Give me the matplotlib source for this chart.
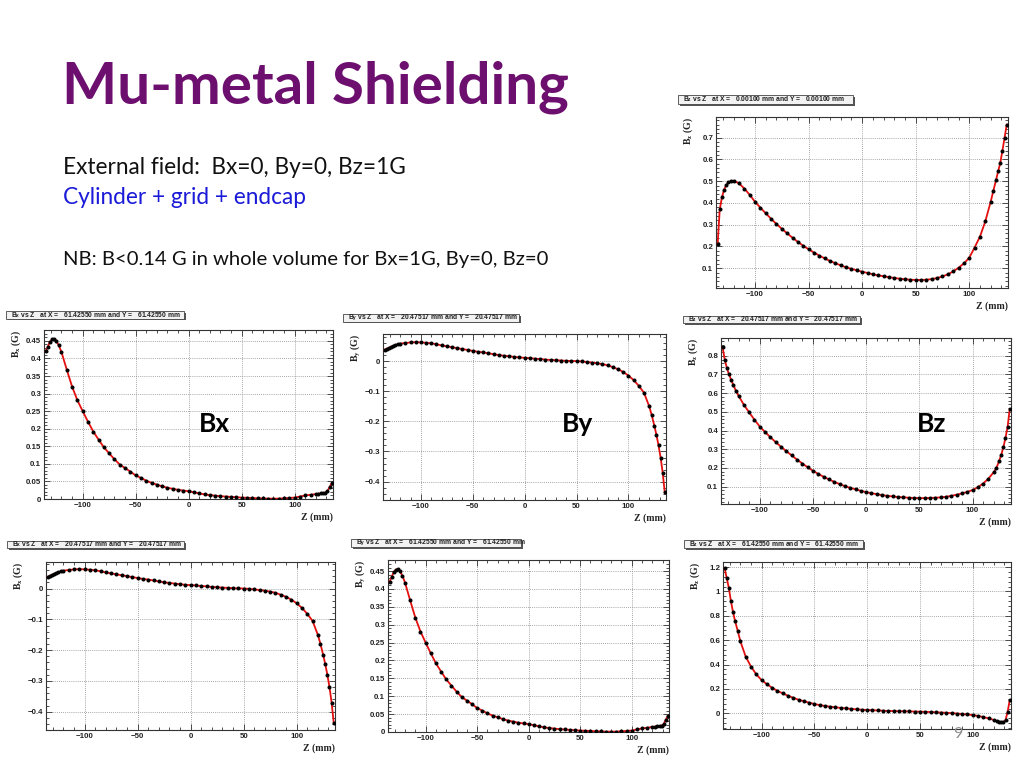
import numpy as np
import matplotlib
matplotlib.use("Agg")
import matplotlib.pyplot as plt
from matplotlib.patches import Rectangle
from matplotlib.ticker import MultipleLocator, FuncFormatter

# ---------------- data ----------------
Z_MM = [-135, -133, -131, -129, -127, -125, -122.5, -120,
        -115, -110, -105, -100, -95, -90, -85, -80, -75, -70, -65, -60,
        -55, -50, -45, -40, -35, -30, -25, -20, -15, -10, -5, 0,
        5, 10, 15, 20, 25, 30, 35, 40, 45, 50, 55, 60, 65, 70, 75, 80,
        85, 90, 95, 100, 105, 110, 115,
        120, 122.5, 125, 127, 129, 131, 133, 135]

# Bz on axis (X = Y = 0.001 mm)
BZ_CENTER = [0.21, 0.37, 0.425, 0.46, 0.482, 0.494, 0.501, 0.502,
             0.49, 0.466, 0.437, 0.405, 0.378, 0.352, 0.327, 0.303, 0.281, 0.26, 0.24, 0.221,
             0.203, 0.187, 0.172, 0.158, 0.145, 0.133, 0.123, 0.113, 0.104, 0.097, 0.09, 0.084,
             0.078, 0.072, 0.067, 0.063, 0.059, 0.055, 0.052, 0.049, 0.047, 0.046, 0.046, 0.047,
             0.05, 0.055, 0.062, 0.072, 0.085, 0.102, 0.122, 0.148, 0.195, 0.245, 0.315,
             0.405, 0.455, 0.505, 0.545, 0.585, 0.64, 0.70, 0.76]

# Transverse component at X = Y = 61.42550 mm (Bx and By look identical)
BT_61 = [0.42, 0.433, 0.447, 0.454, 0.455, 0.45, 0.437, 0.418,
         0.368, 0.32, 0.281, 0.25, 0.22, 0.192, 0.169, 0.147, 0.13, 0.113, 0.098, 0.088,
         0.078, 0.067, 0.06, 0.052, 0.046, 0.041, 0.036, 0.032, 0.029, 0.026, 0.024, 0.022,
         0.019, 0.016, 0.013, 0.011, 0.0095, 0.008, 0.007, 0.006, 0.005, 0.004, 0.0035, 0.003,
         0.002, 0.0015, 0.001, 0.001, 0.001, 0.002, 0.003, 0.004, 0.007, 0.01, 0.012,
         0.014, 0.015, 0.016, 0.017, 0.018, 0.022, 0.034, 0.045]

# Transverse component at X = Y = 20.47517 mm (Bx and By look identical)
BT_20 = [0.038, 0.041, 0.044, 0.047, 0.05, 0.053, 0.056, 0.058,
         0.06, 0.062, 0.063, 0.062, 0.061, 0.059, 0.056, 0.052, 0.049, 0.046, 0.043, 0.04,
         0.037, 0.034, 0.031, 0.029, 0.026, 0.023, 0.02, 0.018, 0.016, 0.014, 0.012, 0.011,
         0.01, 0.008, 0.007, 0.005, 0.004, 0.003, 0.002, 0.001, 0.0005, 0.0, -0.001, -0.003,
         -0.005, -0.007, -0.01, -0.014, -0.02, -0.027, -0.036, -0.048, -0.063, -0.082, -0.105,
         -0.15, -0.18, -0.215, -0.245, -0.28, -0.32, -0.37, -0.436]

# Bz at X = Y = 20.47517 mm
BZ_20 = [0.845, 0.78, 0.735, 0.70, 0.672, 0.645, 0.613, 0.586,
         0.538, 0.497, 0.458, 0.421, 0.392, 0.364, 0.338, 0.313, 0.29, 0.267, 0.245, 0.224,
         0.204, 0.185, 0.168, 0.153, 0.139, 0.126, 0.114, 0.103, 0.094, 0.086, 0.078, 0.071,
         0.065, 0.06, 0.055, 0.051, 0.048, 0.045, 0.043, 0.041, 0.04, 0.039, 0.039, 0.04,
         0.041, 0.043, 0.046, 0.051, 0.057, 0.064, 0.072, 0.082, 0.097, 0.117, 0.143,
         0.178, 0.20, 0.237, 0.27, 0.31, 0.36, 0.42, 0.515]

# Bz at X = Y = 61.42550 mm
BZ_61 = [1.19, 1.11, 1.03, 0.92, 0.83, 0.755, 0.675, 0.59,
         0.465, 0.384, 0.32, 0.273, 0.24, 0.21, 0.185, 0.164, 0.145, 0.128, 0.112, 0.1,
         0.088, 0.077, 0.068, 0.061, 0.055, 0.05, 0.045, 0.041, 0.037, 0.033, 0.03, 0.028,
         0.026, 0.024, 0.022, 0.02, 0.019, 0.018, 0.017, 0.016, 0.015, 0.014, 0.013, 0.011,
         0.009, 0.007, 0.005, 0.002, -0.001, -0.005, -0.009, -0.014, -0.021, -0.03, -0.041,
         -0.054, -0.061, -0.068, -0.073, -0.072, -0.055, 0.012, 0.11]

X_TICKS = [-100, -50, 0, 50, 100]
BIG_LABELS = ["Bx", "By", "Bz"]

# ---------------- styling ----------------
plt.rcParams["mathtext.fontset"] = "custom"
plt.rcParams["mathtext.rm"] = "Liberation Serif:bold"
plt.rcParams["mathtext.it"] = "Liberation Serif:bold"
plt.rcParams["mathtext.bf"] = "Liberation Serif:bold"
plt.rcParams["mathtext.sf"] = "Liberation Sans:bold"

W, H = 1024, 768
fig = plt.figure(figsize=(W / 100, H / 100), dpi=100)
fig.patch.set_facecolor("white")


def fx(px):
    return px / W


def fy(py):
    return 1 - py / H


def fmt_val(v, pos):
    if abs(v) < 1e-9:
        return "0"
    s = "%g" % round(v, 4)
    return s.replace("-", "\u2212")


panels = [
    dict(rect=(716, 117, 1008, 288), box=(678, 95, 853, 104), comp="z", pos="0.00100",
         data=BZ_CENTER, ylim=(0.009, 0.795), major=0.1, minor=0.02),
    dict(rect=(44, 330, 333, 499), box=(6, 311, 184, 319), comp="x", pos="61.42550",
         data=BT_61, ylim=(0.0, 0.481), major=0.05, minor=0.01),
    dict(rect=(383, 334, 666, 500), box=(343, 314, 519, 322), comp="y", pos="20.47517",
         data=BT_20, ylim=(-0.461, 0.09), major=0.1, minor=0.02),
    dict(rect=(721, 338, 1011, 504), box=(683, 316, 860, 323), comp="z", pos="20.47517",
         data=BZ_20, ylim=(0.0075, 0.895), major=0.1, minor=0.02),
    dict(rect=(46, 562, 335, 730), box=(7, 541, 184, 548), comp="x", pos="20.47517",
         data=BT_20, ylim=(-0.459, 0.086), major=0.1, minor=0.02),
    dict(rect=(388, 560, 669, 732), box=(351, 539, 521, 547), comp="y", pos="61.42550",
         data=BT_61, ylim=(0.0, 0.481), major=0.05, minor=0.01),
    dict(rect=(723, 562, 1011, 729), box=(684, 540, 863, 548), comp="z", pos="61.42550",
         data=BZ_61, ylim=(-0.128, 1.241), major=0.2, minor=0.04),
]

for p in panels:
    l, t, r, b = p["rect"]
    ax = fig.add_axes([fx(l), fy(b), (r - l) / W, (b - t) / H])
    ax.plot(Z_MM, p["data"], color="#e41010", lw=1.3, zorder=3)
    ax.plot(Z_MM, p["data"], ls="none", marker="o", ms=1.9, color="black", zorder=4)
    ax.set_xlim(-136.5, 136.2)
    ax.set_ylim(*p["ylim"])
    ax.xaxis.set_major_locator(MultipleLocator(50))
    ax.xaxis.set_minor_locator(MultipleLocator(10))
    ax.yaxis.set_major_locator(MultipleLocator(p["major"]))
    ax.yaxis.set_minor_locator(MultipleLocator(p["minor"]))
    ax.xaxis.set_major_formatter(FuncFormatter(fmt_val))
    ax.yaxis.set_major_formatter(FuncFormatter(fmt_val))
    ax.tick_params(which="both", direction="in", top=True, right=True,
                   color="#333333", width=0.6)
    ax.tick_params(which="major", length=4, pad=2,
                   labelsize=5.7, labelcolor="#222222")
    ax.tick_params(which="minor", length=2)
    for lab in ax.get_xticklabels() + ax.get_yticklabels():
        lab.set_fontfamily("Liberation Sans")
        lab.set_fontweight("bold")
    ax.grid(True, which="major", color="#8a8a8a", lw=0.6, ls=(0, (1, 1.5)))
    ax.set_axisbelow(True)
    for s in ax.spines.values():
        s.set_linewidth(0.8)
        s.set_color("#333333")
    # axis titles (ROOT style)
    ax.annotate("B$_{\\rm %s}$ (G)" % p["comp"], xy=(0, 1), xycoords="axes fraction",
                xytext=(-20, 0), textcoords="offset points", rotation=90,
                ha="center", va="top", fontsize=7, fontfamily="Liberation Serif",
                fontweight="bold", color="#222222")
    ax.annotate("Z (mm)", xy=(1, 0), xycoords="axes fraction",
                xytext=(0, -10), textcoords="offset points",
                ha="right", va="top", fontsize=7, fontfamily="Liberation Serif",
                fontweight="bold", color="#222222")
    # title box
    x0, y0, x1, y1 = p["box"]
    fig.patches.append(Rectangle((fx(x0) + 1.5 / W, fy(y1) - 1.5 / H), (x1 - x0) / W, (y1 - y0) / H,
                                 transform=fig.transFigure, facecolor="#555555",
                                 edgecolor="none", zorder=1))
    fig.patches.append(Rectangle((fx(x0), fy(y1)), (x1 - x0) / W, (y1 - y0) / H,
                                 transform=fig.transFigure, facecolor="#f2f2f2",
                                 edgecolor="#444444", lw=0.6, zorder=2))
    fig.text(fx(x0 + 5), fy((y0 + y1) / 2),
             "B$_{\\mathsf{%s}}$ vs Z   at X =   %s mm and Y =   %s mm" % (p["comp"], p["pos"], p["pos"]),
             ha="left", va="center", fontsize=4.9, fontfamily="Liberation Sans",
             fontweight="bold", color="#222222", zorder=3)

# ---------------- slide text ----------------
fig.text(fx(62), fy(103), "Mu-metal Shielding", fontsize=42, fontfamily="Lato",
         fontweight="bold", color="#6d0f6e", ha="left", va="baseline")
fig.text(fx(63), fy(174), "External field:  Bx=0, By=0, Bz=1G", fontsize=16.3,
         fontfamily="Lato", color="#111111", ha="left", va="baseline")
fig.text(fx(63), fy(204), "Cylinder + grid + endcap", fontsize=16.3,
         fontfamily="Lato", color="#1a1ad8", ha="left", va="baseline")
fig.text(fx(63), fy(265), "NB: B<0.14 G in whole volume for Bx=1G, By=0, Bz=0", fontsize=14.6,
         fontfamily="Lato", color="#111111", ha="left", va="baseline")

for txt, cx in zip(BIG_LABELS, [214, 577, 932]):
    fig.text(fx(cx), fy(432), txt, fontsize=19, fontfamily="Lato", fontweight="bold",
             color="black", ha="center", va="baseline")

fig.text(fx(958), fy(738), "9", fontsize=11.5, fontfamily="Lato", color="#8f8f8f",
         ha="center", va="baseline", zorder=10)

fig.savefig("out.png", dpi=100)
